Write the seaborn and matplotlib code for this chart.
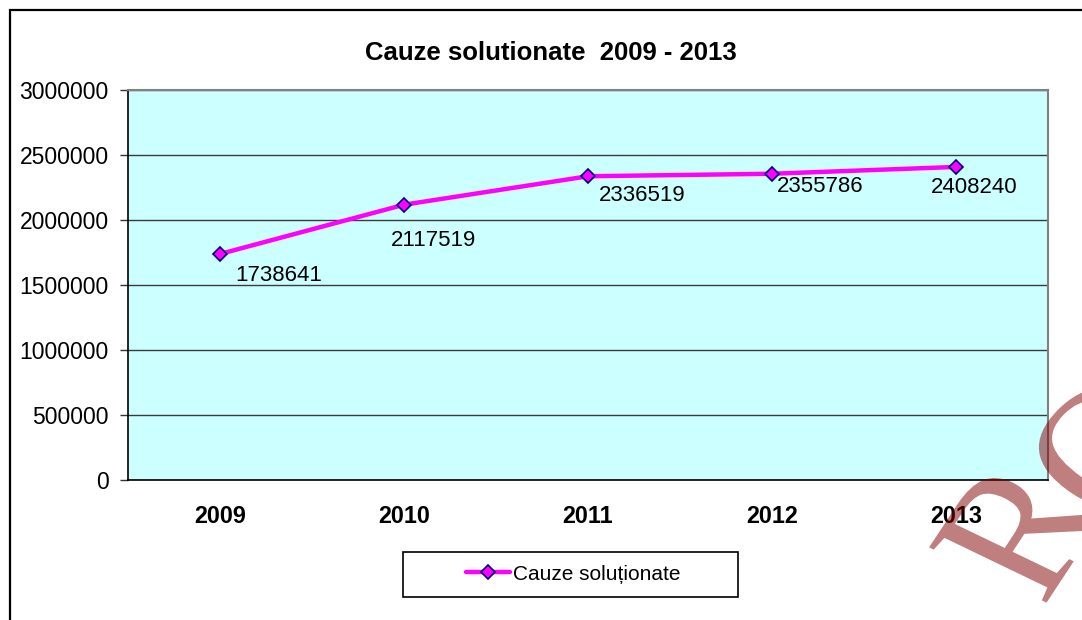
import numpy as np
import pandas as pd
import matplotlib
matplotlib.use("Agg")
import matplotlib.pyplot as plt
from matplotlib.patches import Rectangle, PathPatch
from matplotlib.textpath import TextPath
from matplotlib.font_manager import FontProperties
from matplotlib.transforms import Affine2D, IdentityTransform
import seaborn as sns

# Data
years = ["2009", "2010", "2011", "2012", "2013"]
cauze = [1738641, 2117519, 2336519, 2355786, 2408240]
y_ticks = [0, 500000, 1000000, 1500000, 2000000, 2500000, 3000000]
series_name = "Cauze soluționate"
title = "Cauze solutionate  2009 - 2013"

# label offsets in pixels (manually placed labels in the original)
label_offsets = [(59, -22), (29, -36), (54, -19), (48, -13), (18, -21)]

sns.set_style("white")
plt.rcParams["font.family"] = ["Liberation Sans", "DejaVu Sans"]
plt.rcParams["text.color"] = "black"
plt.rcParams["xtick.color"] = "black"
plt.rcParams["ytick.color"] = "black"

df = pd.DataFrame({"an": years, "cauze": cauze, "serie": series_name})

fig = plt.figure(figsize=(10.82, 6.20), dpi=100)
ax = fig.add_axes([128 / 1082, 140 / 620, 920 / 1082, 390 / 620])
ax.set_facecolor("#CCFFFF")

sns.lineplot(data=df, x="an", y="cauze", hue="serie", palette=["#FF00FF"],
             marker="D", markersize=7, markerfacecolor="#FF00FF",
             markeredgecolor="#000080", markeredgewidth=1.2,
             linewidth=3.2, ax=ax, legend=False, zorder=3)

ax.set_xlim(-0.5, len(years) - 0.5)
ax.set_ylim(0, 3000000)
ax.set_yticks(y_ticks)
ax.set_yticklabels([str(v) for v in y_ticks], fontsize=16.5)
ax.grid(axis="y", color="#3a3a3a", linewidth=1)
ax.set_axisbelow(True)

# category boundaries as ticks, labels in the middle
ax.set_xticks(range(len(years)))
ax.set_xticklabels(years, fontsize=16.8, fontweight="bold")
ax.set_xticks(np.arange(-0.5, len(years)), minor=True)
ax.tick_params(axis="x", which="major", length=0, pad=18)
ax.tick_params(axis="x", which="minor", length=6, width=1, color="#333333", direction="out")
ax.tick_params(axis="y", length=6, width=1, color="#333333", direction="out", pad=8, left=True)
ax.set_xlabel("")
ax.set_ylabel("")

for side in ["top", "right"]:
    ax.spines[side].set_color("#808080")
    ax.spines[side].set_linewidth(1.5)
for side in ["left", "bottom"]:
    ax.spines[side].set_color("#000000")
    ax.spines[side].set_linewidth(1.2)

for i, (yr, v) in enumerate(zip(years, cauze)):
    ax.annotate(str(v), (i, v), xytext=label_offsets[i], textcoords="offset pixels",
                ha="center", va="center", fontsize=16, zorder=4)

fig.text(551 / 1082, 1 - 53 / 620, title, ha="center", va="center",
         fontsize=18.5, fontweight="bold")

# legend box
handles = [plt.Line2D([], [], color="#FF00FF", linewidth=3.2, marker="D", markersize=7,
                      markerfacecolor="#FF00FF", markeredgecolor="#000080",
                      markeredgewidth=1.2)]
fig.legend(handles, [series_name], loc="center", bbox_to_anchor=(573 / 1082, 1 - 574 / 620),
           frameon=False, fontsize=15, handlelength=2.1, handletextpad=0.15)
fig.patches.append(Rectangle((403 / 1082, 1 - 597 / 620), 335 / 1082, 45 / 620,
                             transform=fig.transFigure, fill=False,
                             edgecolor="#000000", linewidth=1.2))

# outer chart frame (cut off on right and bottom)
fig.patches.append(Rectangle((10 / 1082, -0.2), 1.3, 1.2 - 10 / 620,
                             transform=fig.transFigure, fill=False,
                             edgecolor="#000000", linewidth=1.6))


# watermark letters: rotated, then stretched sideways like the original scan
def stamp_letter(ch, angle, tx, ty, size=175):
    path = TextPath((0, 0), ch, size=size, prop=FontProperties(family="Liberation Serif"))
    tr = Affine2D().rotate_deg(angle).scale(1.17, 1).translate(tx, ty)
    patch = PathPatch(path, transform=tr + IdentityTransform(), facecolor="#800000",
                      edgecolor="none", alpha=0.5, zorder=10)
    fig.add_artist(patch)


stamp_letter("R", 60.6, 1043, 12)
stamp_letter("O", 50, 1114, 87)

fig.savefig("out.png", dpi=100)
